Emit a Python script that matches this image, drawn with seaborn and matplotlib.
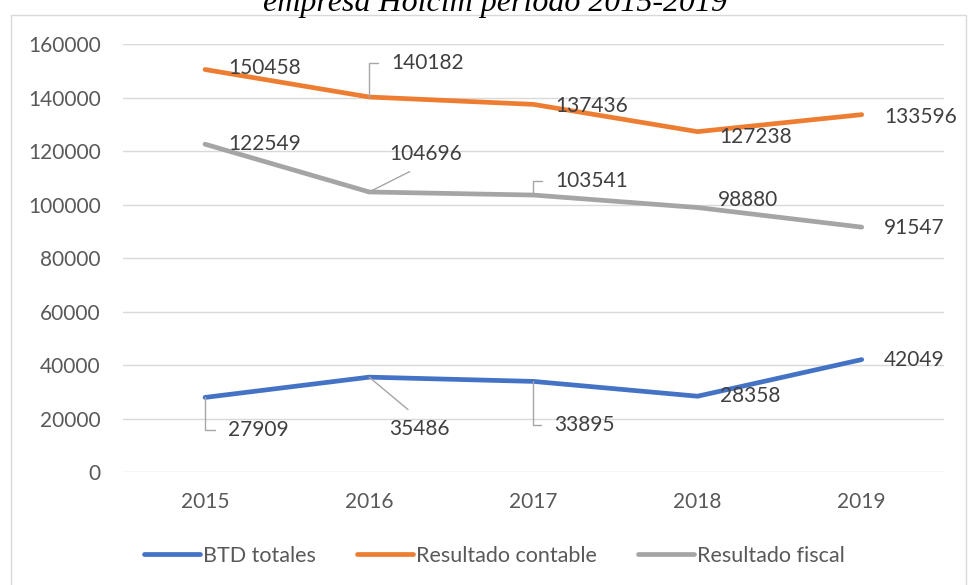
import matplotlib
matplotlib.use("Agg")
import matplotlib.pyplot as plt
import seaborn as sns
import pandas as pd
from matplotlib.lines import Line2D
from matplotlib.patches import Rectangle

# data
years = [2015, 2016, 2017, 2018, 2019]
btd_totales = [27909, 35486, 33895, 28358, 42049]
resultado_contable = [150458, 140182, 137436, 127238, 133596]
resultado_fiscal = [122549, 104696, 103541, 98880, 91547]
series_names = ["BTD totales", "Resultado contable", "Resultado fiscal"]
y_ticks = list(range(0, 160001, 20000))
title = "empresa Holcim período 2015-2019"

colors = {"BTD totales": "#4472C4", "Resultado contable": "#ED7D31", "Resultado fiscal": "#A5A5A5"}

df = pd.DataFrame({
    "Año": years * 3,
    "Valor": btd_totales + resultado_contable + resultado_fiscal,
    "Serie": [n for n in series_names for _ in years],
})

# label placement (pixels right, pixels down from the point) and leader style
label_layout = {
    "BTD totales": [(23, 33, "elbow"), (20, 52, "diag_down"), (21, 44, "elbow"), (22, 0, None), (22, 0, None)],
    "Resultado contable": [(23, -2, None), (22, -34, "elbow"), (22, 2, None), (22, 5, None), (23, 2, None)],
    "Resultado fiscal": [(23, 0, None), (20, -38, "diag_up"), (22, -14, "elbow"), (20, -8, None), (22, 1, None)],
}

sns.set_theme(style="white")
plt.rcParams["font.family"] = ["Lato", "DejaVu Sans"]

fig = plt.figure(figsize=(9.68, 5.85), dpi=100)
ax = fig.add_axes([0.127, 0.193, 0.848, 0.7318])

sns.lineplot(data=df, x="Año", y="Valor", hue="Serie", palette=colors,
             linewidth=3.4, solid_capstyle="round", ax=ax, legend=False)

leader = dict(arrowstyle="-", color="#a6a6a6", lw=1)
for name in series_names:
    vals = df.loc[df["Serie"] == name, "Valor"].tolist()
    for yr, v, (dx, dy, kind) in zip(years, vals, label_layout[name]):
        props = None
        if kind == "elbow":
            props = dict(leader, connectionstyle="angle,angleA=0,angleB=90,rad=0",
                         relpos=(0, 0.5), shrinkA=7, shrinkB=0)
        elif kind == "diag_up":
            props = dict(leader, relpos=(0.49, 0), shrinkA=7, shrinkB=0)
        elif kind == "diag_down":
            props = dict(leader, relpos=(0.5, 1), shrinkA=7, shrinkB=0)
        ax.annotate(f"{v}", xy=(yr, v), xytext=(dx, -dy), textcoords="offset pixels",
                    ha="left", va="center", fontsize=15, color="#404040",
                    arrowprops=props)

ax.set_xlim(2014.5, 2019.5)
ax.set_ylim(0, 160000)
ax.set_xticks(years)
ax.set_xticklabels([str(y) for y in years])
ax.set_yticks(y_ticks)
ax.set_yticklabels([str(t) for t in y_ticks])
ax.tick_params(axis="both", length=0, labelsize=15, labelcolor="#595959")
ax.tick_params(axis="y", pad=16)
ax.tick_params(axis="x", pad=14)
ax.yaxis.grid(True, color="#d9d9d9", lw=1)
ax.xaxis.grid(False)
for s in ax.spines.values():
    s.set_visible(False)
ax.set_xlabel("")
ax.set_ylabel("")

handles = [Line2D([0], [0], color=colors[n], lw=3.4, solid_capstyle="round") for n in series_names]
fig.legend(handles, series_names, loc="center", bbox_to_anchor=(0.511, 0.0496), ncol=3,
           frameon=False, fontsize=15.5, handlelength=2.6, handletextpad=0.15,
           columnspacing=1.9, labelcolor="#595959")

# outer chart frame and the clipped title above it
top = 1 - 15 / 585
fig.add_artist(Rectangle((11 / 968, -0.05), 955 / 968, top + 0.05,
                         transform=fig.transFigure, fill=False, edgecolor="#d9d9d9", lw=1))
fig.text(0.511, 1 - 11 / 585, title, ha="center", va="baseline", fontsize=23,
         family="Liberation Serif", style="italic", color="black")

fig.savefig("out.png", dpi=100)
